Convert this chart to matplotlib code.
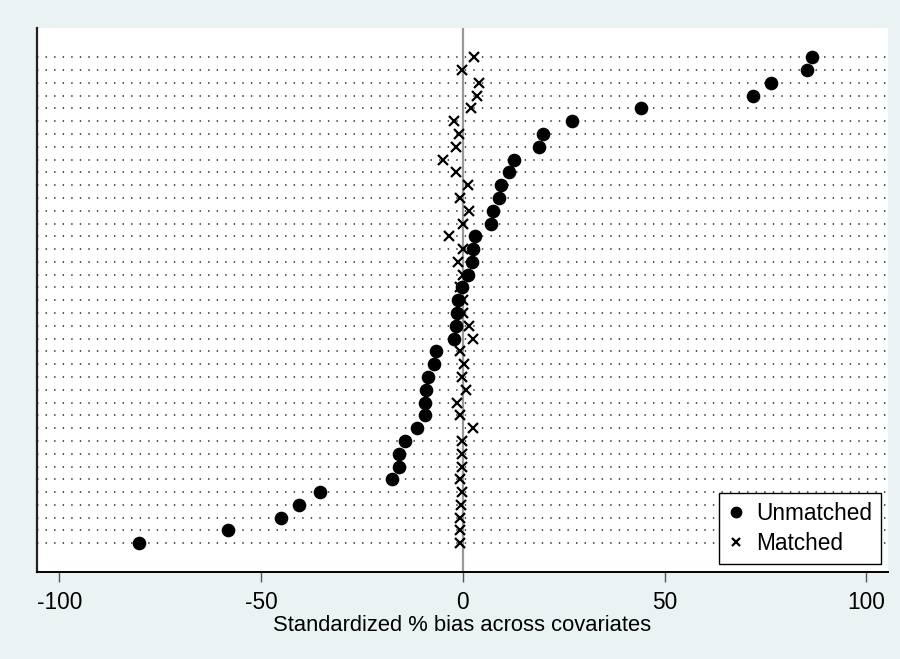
import numpy as np
import matplotlib
matplotlib.use("Agg")
import matplotlib.pyplot as plt

plt.rcParams['font.family'] = ['Liberation Sans', 'DejaVu Sans']

# Standardized % bias per covariate, listed top to bottom (sorted by unmatched bias)
unmatched = [86.6, 85.3, 76.4, 71.9, 44.1, 27.1, 19.9, 19.0, 12.8, 11.5, 9.4, 9.0, 7.4,
             7.0, 3.05, 2.6, 2.4, 1.4, -0.25, -1.3, -1.5, -1.7, -2.1, -6.7, -7.2, -8.7,
             -9.2, -9.3, -9.3,
             -11.3, -14.4, -15.7, -15.8, -17.6, -35.5, -40.5, -45.1, -58.1, -80.2]
matched = [2.8, -0.3, 3.9, 3.5, 2.0, -2.1, -0.9, -1.7, -4.8, -1.7, 1.4, -0.7, 1.6,
           0.0, -3.4, 0.0, -1.2, 0.15, -0.7, 0.15, 0.0, 1.6, 2.6, -0.7, 0.3, -0.25,
           0.7, -1.5, -0.7,
           2.5, -0.1, -0.1, -0.1, -0.7, -0.25, -0.4, -0.8, -0.7, -0.8]
xticks = [-100, -50, 0, 50, 100]
xlabel = "Standardized % bias across covariates"
legend_labels = ["Unmatched", "Matched"]

n = len(unmatched)
ypos = np.arange(n, 0, -1)

bg = '#EAF2F3'
fig = plt.figure(figsize=(9, 6.59), dpi=100, facecolor=bg)
ax = fig.add_axes([0.0408, 0.1316, 0.9459, 0.8259])
ax.set_facecolor('white')

# dotted row guides
for y in ypos:
    ax.plot([-105.6, 105.4], [y, y], color='#222222', lw=1.1,
            linestyle=(0, (0.9, 4.7)), zorder=1)

# reference line at zero
ax.axvline(0, color='#999999', lw=1.6, zorder=2)

h1, = ax.plot(unmatched, ypos, 'o', color='black', markersize=8.8,
              linestyle='none', zorder=3)
h2, = ax.plot(matched, ypos, 'x', color='black', markersize=7.2,
              markeredgewidth=1.6, linestyle='none', zorder=3)

ax.set_xlim(-105.6, 105.4)
ax.set_ylim(1 - 2.27, n + 2.29)
ax.set_yticks([])
ax.set_xticks(xticks)
ax.set_xticklabels([str(t) for t in xticks], fontsize=16.3)
ax.tick_params(axis='x', direction='out', length=7.5, width=1, color='#555555', pad=6)
ax.set_xlabel(xlabel, fontsize=15.8, labelpad=1)

for s in ['top', 'right']:
    ax.spines[s].set_visible(False)
ax.spines['left'].set_linewidth(1.6)
ax.spines['left'].set_color('#222222')
ax.spines['bottom'].set_linewidth(1.4)
ax.spines['bottom'].set_color('black')

leg = ax.legend([h1, h2], legend_labels, loc='lower right',
                bbox_to_anchor=(0.992, 0.015), borderaxespad=0,
                fontsize=16.3, fancybox=False, framealpha=1,
                edgecolor='black', markerscale=0.85, handlelength=0.7,
                handletextpad=0.55, borderpad=0.4, labelspacing=0.3)
leg.get_frame().set_linewidth(1.0)

fig.savefig('out.png', dpi=100, facecolor=bg)
